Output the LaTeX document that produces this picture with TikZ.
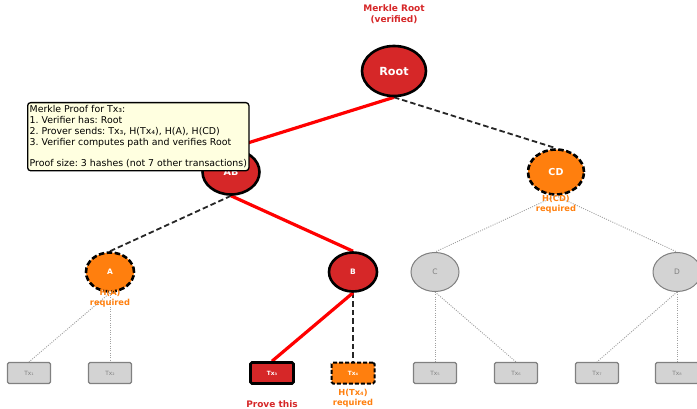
\documentclass[tikz,border=0pt]{standalone}
\usepackage{fontspec}
\setmainfont{DejaVu Sans}
\frenchspacing
\usetikzlibrary{shapes.geometric,backgrounds}
\definecolor{pathred}{HTML}{D62728}
\definecolor{hashorange}{HTML}{FF7F0E}
\definecolor{idlegray}{HTML}{D3D3D3}
\definecolor{notefill}{HTML}{FFFFE0}
\definecolor{linkgray}{HTML}{A0A0A0}
\begin{document}
\begin{tikzpicture}[x=1pt,y=-1pt,
  hashnode/.style={ellipse, inner sep=0pt, text=white, font=\bfseries\fontsize{7.5}{8}\selectfont},
  onpath/.style={hashnode, fill=pathred, draw=black, line width=2.6pt},
  needed/.style={hashnode, fill=hashorange, draw=black, line width=2.6pt, dash pattern=on 5.5pt off 2.5pt},
  idle/.style={hashnode, fill=idlegray, draw=gray, line width=1pt, text=gray, font=\fontsize{7.5}{8}\selectfont},
  leafbox/.style={rectangle, rounded corners=1.5pt, minimum width=43pt, minimum height=21pt, inner sep=0pt},
  idleleaf/.style={leafbox, fill=idlegray, draw=gray, line width=1.2pt, text=gray, font=\fontsize{5.8}{6}\selectfont},
  pathleaf/.style={leafbox, fill=pathred, draw=black, line width=2.6pt, text=white, font=\bfseries\fontsize{5.8}{6}\selectfont},
  neededleaf/.style={leafbox, fill=hashorange, draw=black, line width=2pt, dash pattern=on 4pt off 2pt, text=white, font=\bfseries\fontsize{5.8}{6}\selectfont},
  proofedge/.style={draw=red, line width=3.2pt},
  siblingedge/.style={draw=black!85, line width=1.8pt, dash pattern=on 5.5pt off 3pt},
  idleedge/.style={draw=linkgray, line width=0.9pt, dash pattern=on 1pt off 1.3pt},
  redlabel/.style={text=pathred, font=\bfseries\fontsize{9}{10.5}\selectfont, align=center},
  orangelabel/.style={text=hashorange, font=\bfseries\fontsize{8.3}{9.6}\selectfont, align=center},
  notebox/.style={rectangle, rounded corners=3pt, fill=notefill, draw=black, line width=1.3pt,
    align=left, inner xsep=2pt, inner ysep=2.6pt, font=\fontsize{9.4}{10.9}\selectfont}
]
\useasboundingbox (0,0) rectangle (697,409);
\clip (0,0) rectangle (697,409);

% tree nodes
\node[onpath, minimum width=64pt, minimum height=50pt, font=\bfseries\fontsize{11.2}{12}\selectfont] (root) at (394,71) {Root};
\node[onpath, minimum width=57pt, minimum height=45pt, font=\bfseries\fontsize{9.6}{10}\selectfont] (ab) at (231,172) {AB};
\node[needed, minimum width=56pt, minimum height=45pt, font=\bfseries\fontsize{9.6}{10}\selectfont] (cd) at (556,172) {CD};
\node[needed, minimum width=48pt, minimum height=39pt] (a) at (110,272) {A};
\node[onpath, minimum width=48pt, minimum height=39pt] (b) at (353,272) {B};
\node[idle, minimum width=48pt, minimum height=39pt] (c) at (435,272) {C};
\node[idle, minimum width=48pt, minimum height=39pt] (d) at (677,272) {D};

% transactions
\node[idleleaf] (tx1) at (29,373) {Tx₁};
\node[idleleaf] (tx2) at (110,373) {Tx₂};
\node[pathleaf] (tx3) at (272,373) {Tx₃};
\node[neededleaf] (tx4) at (353,373) {Tx₄};
\node[idleleaf] (tx5) at (435,373) {Tx₅};
\node[idleleaf] (tx6) at (516,373) {Tx₆};
\node[idleleaf] (tx7) at (597,373) {Tx₇};
\node[idleleaf] (tx8) at (677,373) {Tx₈};

% connectors, drawn beneath the nodes
\begin{scope}[on background layer]
  \draw[idleedge] (a.south) -- (tx1.north);
  \draw[idleedge] (a.south) -- (tx2.north);
  \draw[idleedge] (cd.south) -- (c.north);
  \draw[idleedge] (cd.south) -- (d.north);
  \draw[idleedge] (c.south) -- (tx5.north);
  \draw[idleedge] (c.south) -- (tx6.north);
  \draw[idleedge] (d.south) -- (tx7.north);
  \draw[idleedge] (d.south) -- (tx8.north);
  \draw[siblingedge] (root.south) -- (cd.north);
  \draw[siblingedge] (ab.south) -- (a.north);
  \draw[siblingedge] (b.south) -- (tx4.north);
  \draw[proofedge] (root.south) -- (ab.north);
  \draw[proofedge] (ab.south) -- (b.north);
  \draw[proofedge] (b.south) -- (tx3.north);
\end{scope}

% annotations
\node[redlabel] (rootnote) at (394,14) {Merkle Root\\(verified)};
\node[orangelabel] (cdnote) at (556,204) {H(CD)\\required};
\node[orangelabel] (anote) at (110,298) {H(A)\\required};
\node[redlabel] (provenote) at (272,404) {Prove this};
\node[orangelabel] (tx4note) at (353,398) {H(Tx₄)\\required};

% proof summary
\node[notebox, anchor=north west] (summary) at (27,102) {Merkle Proof for Tx₃:\\
1. Verifier has: Root\\
2. Prover sends: Tx₃, H(Tx₄), H(A), H(CD)\\
3. Verifier computes path and verifies Root\\[10.9pt]
Proof size: 3 hashes (not 7 other transactions)};
\end{tikzpicture}
\end{document}
